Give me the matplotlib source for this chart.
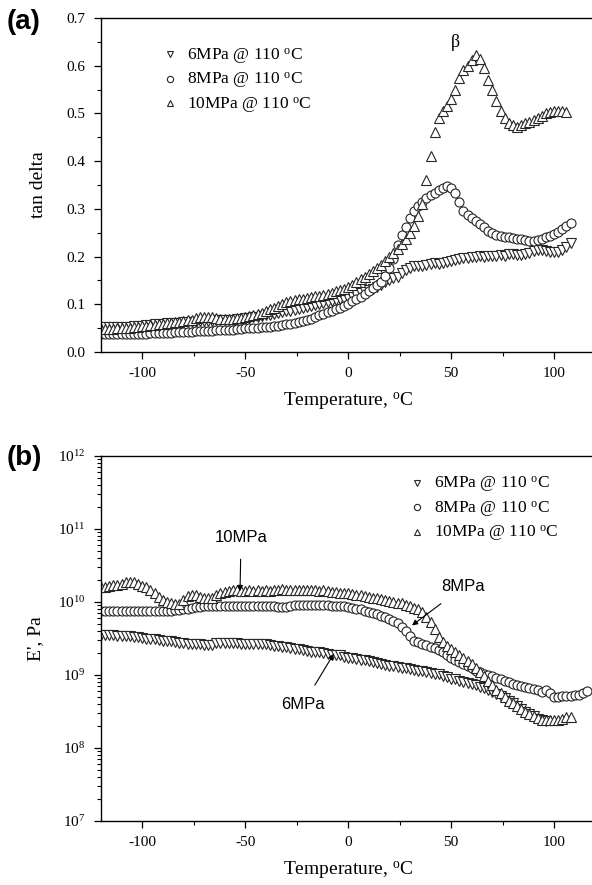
import matplotlib
matplotlib.use("Agg")
import matplotlib.pyplot as plt
import numpy as np
from matplotlib.ticker import MultipleLocator, LogLocator, NullFormatter

plt.rcParams['font.family'] = ['Liberation Serif', 'DejaVu Serif']
plt.rcParams['mathtext.fontset'] = 'custom'
plt.rcParams['mathtext.rm'] = 'Liberation Serif'
plt.rcParams['mathtext.it'] = 'Liberation Serif:italic'
plt.rcParams['axes.unicode_minus'] = False

# ---- panel (a): tan delta, temperature grid starts at -120 C, 2 C steps
tan_10mpa = [0.048, 0.048, 0.049, 0.049, 0.050, 0.050, 0.051, 0.051, 0.052, 0.053,
             0.054, 0.055, 0.056, 0.057, 0.058, 0.059, 0.060, 0.061, 0.062, 0.063,
             0.064, 0.066, 0.068, 0.071, 0.073, 0.074, 0.074, 0.073, 0.071, 0.070,
             0.069, 0.069, 0.070, 0.071, 0.072, 0.074, 0.076, 0.078, 0.080, 0.082,
             0.085, 0.089, 0.093, 0.097, 0.101, 0.104, 0.107, 0.108, 0.110, 0.111,
             0.113, 0.115, 0.117, 0.118, 0.120, 0.122, 0.124, 0.127, 0.130, 0.133,
             0.136, 0.141, 0.146, 0.152, 0.158, 0.164, 0.170, 0.176, 0.183, 0.191,
             0.199, 0.207, 0.216, 0.226, 0.236, 0.249, 0.264, 0.285, 0.310, 0.360,
             0.410, 0.460, 0.490, 0.505, 0.515, 0.530, 0.550, 0.575, 0.590, 0.600,
             0.612, 0.622, 0.615, 0.595, 0.570, 0.550, 0.525, 0.505, 0.490, 0.480,
             0.475, 0.472, 0.475, 0.480, 0.483, 0.487, 0.490, 0.495, 0.500, 0.502,
             0.505, 0.505, 0.505, 0.503]

tan_8mpa = [0.038, 0.038, 0.038, 0.038, 0.038, 0.038, 0.038, 0.038, 0.038, 0.038,
            0.038, 0.038, 0.039, 0.039, 0.039, 0.040, 0.040, 0.040, 0.041, 0.041,
            0.042, 0.042, 0.042, 0.043, 0.043, 0.044, 0.044, 0.044, 0.045, 0.045,
            0.045, 0.046, 0.047, 0.048, 0.049, 0.050, 0.050, 0.051, 0.051, 0.052,
            0.052, 0.053, 0.054, 0.055, 0.057, 0.058, 0.059, 0.061, 0.063, 0.065,
            0.068, 0.070, 0.073, 0.077, 0.080, 0.083, 0.086, 0.089, 0.093, 0.097,
            0.101, 0.106, 0.111, 0.116, 0.122, 0.128, 0.134, 0.140, 0.146, 0.160,
            0.175, 0.195, 0.225, 0.245, 0.262, 0.280, 0.295, 0.305, 0.315, 0.322,
            0.328, 0.334, 0.340, 0.344, 0.347, 0.344, 0.333, 0.315, 0.296, 0.288,
            0.281, 0.275, 0.268, 0.261, 0.254, 0.249, 0.246, 0.243, 0.241, 0.240,
            0.238, 0.236, 0.236, 0.234, 0.233, 0.233, 0.234, 0.236, 0.240, 0.244,
            0.247, 0.252, 0.258, 0.264, 0.270]

tan_6mpa = [0.052, 0.052, 0.052, 0.052, 0.052, 0.053, 0.053, 0.053, 0.054, 0.054,
            0.055, 0.056, 0.057, 0.058, 0.058, 0.059, 0.060, 0.060, 0.061, 0.061,
            0.062, 0.062, 0.063, 0.063, 0.064, 0.064, 0.065, 0.065, 0.066, 0.066,
            0.067, 0.067, 0.068, 0.069, 0.070, 0.071, 0.072, 0.073, 0.074, 0.076,
            0.077, 0.078, 0.080, 0.081, 0.083, 0.085, 0.086, 0.088, 0.090, 0.092,
            0.094, 0.096, 0.098, 0.100, 0.102, 0.104, 0.106, 0.108, 0.110, 0.112,
            0.114, 0.117, 0.120, 0.123, 0.126, 0.129, 0.133, 0.137, 0.141, 0.146,
            0.151, 0.154, 0.158, 0.165, 0.172, 0.177, 0.180, 0.181, 0.180, 0.182,
            0.184, 0.186, 0.185, 0.187, 0.189, 0.190, 0.192, 0.194, 0.196, 0.197,
            0.198, 0.200, 0.201, 0.200, 0.201, 0.202, 0.201, 0.203, 0.202, 0.205,
            0.205, 0.203, 0.204, 0.206, 0.208, 0.212, 0.214, 0.213, 0.211, 0.210,
            0.209, 0.210, 0.213, 0.220, 0.228]

# ---- panel (b): log10 of E' (Pa), same temperature grid
logE_10mpa = [10.20, 10.21, 10.22, 10.23, 10.24, 10.25, 10.27, 10.27, 10.27, 10.25,
              10.22, 10.20, 10.17, 10.12, 10.07, 10.03, 10.00, 9.98, 9.97, 9.97,
              10.03, 10.08, 10.10, 10.09, 10.07, 10.06, 10.05, 10.06, 10.10, 10.13,
              10.14, 10.15, 10.16, 10.16, 10.15, 10.15, 10.16, 10.15, 10.16, 10.15,
              10.16, 10.15, 10.17, 10.16, 10.18, 10.16, 10.17, 10.16, 10.17, 10.16,
              10.17, 10.16, 10.16, 10.15, 10.16, 10.15, 10.14, 10.14, 10.13, 10.12,
              10.12, 10.11, 10.10, 10.09, 10.08, 10.07, 10.06, 10.05, 10.04, 10.03,
              10.01, 10.00, 9.99, 9.98, 9.96, 9.94, 9.92, 9.90, 9.86, 9.80,
              9.72, 9.63, 9.52, 9.45, 9.40, 9.35, 9.31, 9.27, 9.23, 9.19,
              9.15, 9.10, 9.04, 8.98, 8.92, 8.86, 8.80, 8.75, 8.70, 8.65,
              8.61, 8.57, 8.53, 8.50, 8.47, 8.44, 8.41, 8.39, 8.38, 8.38,
              8.38, 8.39, 8.40, 8.42, 8.43]

logE_8mpa = [9.88, 9.88, 9.88, 9.88, 9.88, 9.88, 9.88, 9.88, 9.88, 9.88,
             9.88, 9.88, 9.88, 9.88, 9.88, 9.88, 9.88, 9.88, 9.89, 9.89,
             9.90, 9.91, 9.92, 9.93, 9.93, 9.94, 9.94, 9.94, 9.95, 9.95,
             9.95, 9.95, 9.95, 9.95, 9.95, 9.95, 9.95, 9.95, 9.95, 9.94,
             9.94, 9.94, 9.94, 9.93, 9.93, 9.93, 9.95, 9.96, 9.96, 9.96,
             9.96, 9.96, 9.96, 9.96, 9.96, 9.96, 9.95, 9.95, 9.94, 9.94,
             9.93, 9.92, 9.91, 9.90, 9.88, 9.86, 9.85, 9.83, 9.81, 9.79,
             9.77, 9.74, 9.71, 9.66, 9.60, 9.53, 9.47, 9.45, 9.43, 9.41,
             9.39, 9.37, 9.34, 9.31, 9.28, 9.24, 9.21, 9.18, 9.15, 9.12,
             9.09, 9.06, 9.04, 9.02, 9.00, 8.98, 8.96, 8.94, 8.92, 8.90,
             8.88, 8.86, 8.85, 8.84, 8.82, 8.81, 8.79, 8.77, 8.80, 8.75,
             8.70, 8.70, 8.71, 8.71, 8.71, 8.72, 8.73, 8.75, 8.78]

logE_6mpa = [9.55, 9.55, 9.55, 9.55, 9.54, 9.54, 9.53, 9.53, 9.52, 9.52,
             9.51, 9.50, 9.49, 9.49, 9.48, 9.47, 9.47, 9.46, 9.45, 9.44,
             9.44, 9.43, 9.43, 9.42, 9.42, 9.41, 9.41, 9.41, 9.44, 9.44,
             9.44, 9.44, 9.44, 9.44, 9.43, 9.43, 9.43, 9.43, 9.42, 9.42,
             9.42, 9.41, 9.40, 9.40, 9.39, 9.38, 9.37, 9.36, 9.35, 9.34,
             9.33, 9.32, 9.31, 9.31, 9.30, 9.29, 9.28, 9.28, 9.27, 9.25,
             9.24, 9.23, 9.22, 9.21, 9.20, 9.19, 9.18, 9.16, 9.15, 9.14,
             9.13, 9.12, 9.11, 9.10, 9.09, 9.08, 9.07, 9.06, 9.05, 9.04,
             9.03, 9.02, 9.01, 8.99, 8.97, 8.95, 8.94, 8.92, 8.91, 8.89,
             8.88, 8.86, 8.84, 8.82, 8.80, 8.77, 8.74, 8.71, 8.68, 8.65,
             8.62, 8.58, 8.54, 8.50, 8.47, 8.44, 8.40, 8.38, 8.37]

labels = ['6MPa @ 110 $^{\\mathrm{o}}$C', '8MPa @ 110 $^{\\mathrm{o}}$C',
          '10MPa @ 110 $^{\\mathrm{o}}$C']
markers = ['v', 'o', '^']


def temps(vals):
    return -120 + 2 * np.arange(len(vals))


def style_axis(ax):
    for s in ['top', 'left', 'bottom']:
        ax.spines[s].set_linewidth(1.0)
    ax.spines['right'].set_visible(False)
    ax.tick_params(which='major', direction='out', length=5, width=0.9,
                   labelsize=11, top=False, right=False, pad=6)
    ax.tick_params(which='minor', direction='out', length=3, width=0.8,
                   top=False, right=False)
    ax.set_xlim(-120, 120)
    ax.xaxis.set_major_locator(MultipleLocator(50))
    ax.xaxis.set_minor_locator(MultipleLocator(25))
    ax.set_xlabel('Temperature, $^{\\mathrm{o}}$C', fontsize=14, labelpad=7)


mk = dict(linestyle='none', markersize=6.5, markerfacecolor='white',
          markeredgecolor='#262626', markeredgewidth=0.8)

fig = plt.figure(figsize=(5.92, 8.85), dpi=100)

# ---------- (a)
ax1 = fig.add_axes([0.1706, 0.6023, 0.835, 0.3774])
series_a = [tan_6mpa, tan_8mpa, tan_10mpa]
for vals, m in zip(series_a, markers):
    ax1.plot(temps(vals), vals, marker=m, **mk)
style_axis(ax1)
ax1.set_ylim(0, 0.7)
ax1.yaxis.set_major_locator(MultipleLocator(0.1))
ax1.yaxis.set_minor_locator(MultipleLocator(0.05))
ax1.yaxis.set_major_formatter(plt.FormatStrFormatter('%.1f'))
ax1.set_ylabel('tan delta', fontsize=14, labelpad=14)
ax1.text(52, 0.648, 'β', fontsize=13, ha='center', va='center')

handles = [plt.Line2D([], [], marker=m, linestyle='none', markersize=4.5,
                      markerfacecolor='white', markeredgecolor='#262626',
                      markeredgewidth=0.8) for m in markers]
ax1.legend(handles, labels, loc='upper left', bbox_to_anchor=(0.09, 0.96),
           frameon=False, fontsize=12.5, handletextpad=0.5, labelspacing=0.25,
           handlelength=1.0)

fig.text(0.012, 0.975, '(a)', fontsize=20, fontweight='bold',
         family='Liberation Sans', va='center')

# ---------- (b)
ax2 = fig.add_axes([0.1706, 0.0723, 0.835, 0.4124])
series_b = [logE_6mpa, logE_8mpa, logE_10mpa]
for vals, m in zip(series_b, markers):
    ax2.plot(temps(vals), 10 ** np.array(vals), marker=m, **mk)
style_axis(ax2)
ax2.set_yscale('log')
ax2.set_ylim(1e7, 1e12)
ax2.yaxis.set_major_locator(LogLocator(base=10, numticks=10))
ax2.yaxis.set_minor_locator(LogLocator(base=10, subs=np.arange(2, 10), numticks=20))
ax2.yaxis.set_minor_formatter(NullFormatter())
ax2.set_ylabel("E', Pa", fontsize=14, labelpad=10)
ax2.legend(handles, labels, loc='upper left', bbox_to_anchor=(0.59, 0.99),
           frameon=False, fontsize=12.5, handletextpad=0.5, labelspacing=0.25,
           handlelength=1.0)

ann = dict(fontsize=12, family='Liberation Sans', ha='center', va='center',
           arrowprops=dict(arrowstyle='-|>', color='black', lw=0.8,
                           mutation_scale=8, shrinkA=8, shrinkB=0))
ax2.annotate('10MPa', xy=(-52.5, 10 ** 10.15), xytext=(-52, 10 ** 10.88), **ann)
ax2.annotate('8MPa', xy=(31, 10 ** 9.68), xytext=(56, 10 ** 10.21), **ann)
ax2.annotate('6MPa', xy=(-7, 10 ** 9.29), xytext=(-22, 10 ** 8.59), **ann)

fig.text(0.012, 0.483, '(b)', fontsize=20, fontweight='bold',
         family='Liberation Sans', va='center')

fig.savefig('out.png', dpi=100)
